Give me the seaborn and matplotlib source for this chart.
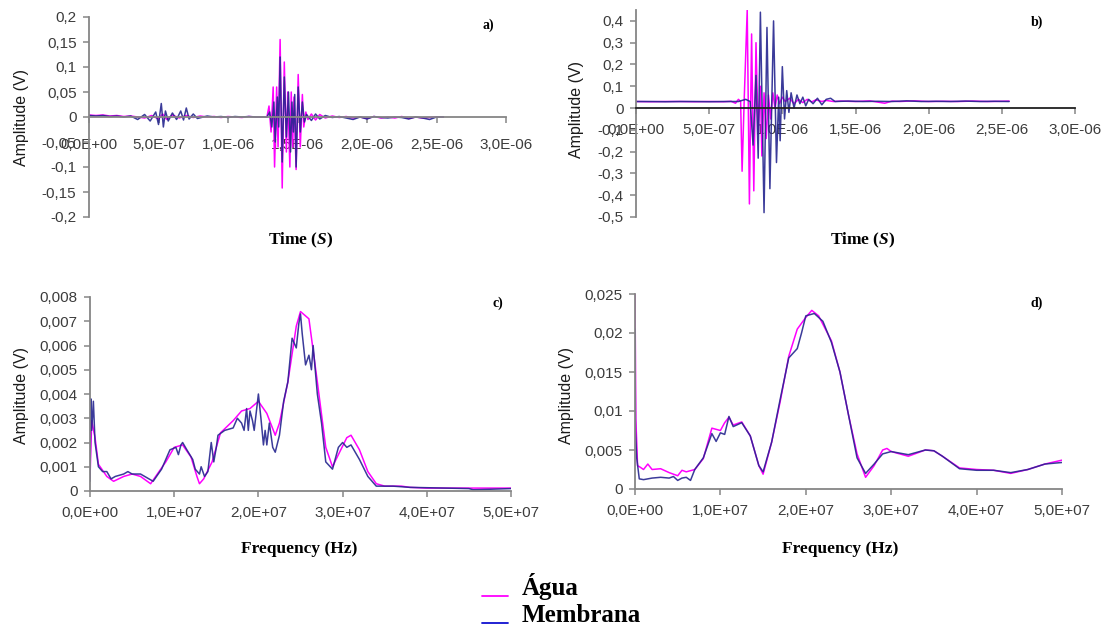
import numpy as np
import pandas as pd
import matplotlib
matplotlib.use("Agg")
import matplotlib.pyplot as plt
import seaborn as sns
from matplotlib.lines import Line2D
from matplotlib.ticker import FuncFormatter, MultipleLocator

sns.set_theme(style="white")
plt.rcParams["font.family"] = ["Liberation Sans", "DejaVu Sans"]
plt.rcParams["mathtext.fontset"] = "custom"
plt.rcParams["mathtext.rm"] = "Liberation Serif:bold"
plt.rcParams["mathtext.it"] = "Liberation Serif:italic:bold"

AGUA_COLOR = "#ff00ff"
MEMB_COLOR = "#26268f"
AXIS_GRAY = "#868686"
LABEL_GRAY = "#3c3c3c"

# ---------------- a) time signal, sample 1 (time in microseconds, volts) ----------------
a_agua_t = [0.00, 0.05, 0.10, 0.15, 0.20, 0.25, 0.30, 0.35, 0.40, 0.45, 0.50, 0.53, 0.56,
            0.60, 0.65, 0.70, 0.75, 0.80, 0.85, 0.90, 0.95, 1.00, 1.05, 1.10, 1.15, 1.20,
            1.28, 1.295, 1.31, 1.325, 1.335, 1.35, 1.36, 1.375, 1.39, 1.405, 1.42, 1.43,
            1.445, 1.455, 1.465, 1.475, 1.49, 1.505, 1.52, 1.535, 1.545, 1.56, 1.575, 1.60,
            1.63, 1.66, 1.70, 1.75, 1.80, 1.85, 1.90, 1.95, 2.00, 2.05, 2.10, 2.15, 2.20,
            2.25, 2.30, 2.35, 2.40, 2.45, 2.50, 2.55]
a_agua_v = [0.004, 0.003, 0.004, 0.002, 0.003, 0.001, 0.002, 0.000, -0.002, 0.003, -0.004,
            0.006, -0.005, 0.004, -0.002, 0.003, -0.001, 0.002, 0.000, 0.001, -0.001, 0.001,
            0.000, -0.001, 0.001, 0.000,
            0.000, 0.022, -0.030, 0.060, -0.100, 0.060, -0.060, 0.155, -0.142, 0.110,
            -0.070, 0.050, -0.100, 0.050, -0.060, 0.040, -0.105, 0.085, -0.060, 0.045,
            -0.020, 0.010, -0.005, 0.006,
            -0.006, 0.005, -0.002, 0.002, -0.001, 0.001, -0.002, 0.000, -0.003, 0.001,
            -0.002, 0.000, -0.002, 0.001, -0.003, 0.000, -0.002, -0.001, 0.000, 0.000]

a_memb_t = [0.00, 0.05, 0.10, 0.15, 0.20, 0.25, 0.30, 0.35, 0.40, 0.44, 0.48, 0.50, 0.52,
            0.535, 0.55, 0.57, 0.60, 0.63, 0.66, 0.68, 0.70, 0.72, 0.75, 0.78, 0.85, 0.90,
            0.95, 1.00, 1.05, 1.10, 1.15, 1.20,
            1.28, 1.30, 1.315, 1.33, 1.34, 1.355, 1.365, 1.375, 1.39, 1.405, 1.42, 1.435,
            1.45, 1.46, 1.47, 1.48, 1.49, 1.505, 1.52, 1.535, 1.55, 1.565, 1.60, 1.63,
            1.66, 1.70, 1.75, 1.80, 1.85, 1.90, 1.95, 2.00, 2.05, 2.10, 2.15, 2.20, 2.25,
            2.30, 2.35, 2.40, 2.45, 2.50, 2.55]
a_memb_v = [0.003, 0.002, 0.003, 0.001, 0.002, 0.000, 0.002, -0.005, 0.005, -0.008, 0.010,
            -0.015, 0.027, -0.020, 0.012, -0.008, 0.008, -0.005, 0.012, -0.006, 0.018,
            -0.004, 0.006, -0.003, 0.002, 0.000, 0.001, -0.001, 0.001, 0.000, 0.001, 0.000,
            0.000, 0.010, -0.020, 0.030, -0.050, 0.040, -0.020, 0.120, -0.090, 0.080,
            -0.040, 0.050, -0.070, 0.030, -0.030, 0.045, -0.100, 0.060, -0.030, 0.030,
            -0.010, 0.005, -0.007, 0.006, -0.004, 0.003, -0.001, 0.001, -0.002, -0.005,
            0.000, -0.004, 0.001, -0.001, -0.002, 0.000, -0.001, -0.004, 0.000, -0.002,
            -0.005, 0.000, 0.000]

# ---------------- b) time signal, sample 2 (time in microseconds, volts) ----------------
b_agua_t = [0.00, 0.10, 0.20, 0.30, 0.40, 0.50, 0.60, 0.65, 0.68, 0.70, 0.715, 0.725, 0.74,
            0.76, 0.775, 0.79, 0.805, 0.82, 0.835, 0.85, 0.86, 0.875, 0.89, 0.905, 0.92,
            0.935, 0.95, 0.965, 0.98, 1.00, 1.02, 1.05, 1.08, 1.11, 1.14, 1.17, 1.20, 1.23,
            1.27, 1.30, 1.35, 1.40, 1.50, 1.60, 1.70, 1.75, 1.80, 1.90, 2.00, 2.10, 2.20,
            2.30, 2.40, 2.50, 2.55]
b_agua_v = [0.030, 0.029, 0.030, 0.030, 0.029, 0.030, 0.029, 0.031, 0.022, 0.040, 0.030,
            -0.290, 0.050, 0.450, -0.440, 0.340, -0.380, 0.300, -0.120, 0.100, -0.220, 0.070,
            -0.140, 0.060, -0.050, 0.070, 0.000, 0.060, 0.020, 0.050, 0.030, 0.045, 0.020,
            0.040, 0.025, 0.040, 0.028, 0.038, 0.030, 0.035, 0.030, 0.032, 0.030, 0.033,
            0.022, 0.032, 0.030, 0.033, 0.030, 0.031, 0.030, 0.032, 0.030, 0.031, 0.032]

b_memb_t = [0.00, 0.10, 0.20, 0.30, 0.40, 0.50, 0.60, 0.70, 0.75, 0.78, 0.80, 0.82, 0.835,
            0.85, 0.875, 0.895, 0.915, 0.94, 0.96, 0.975, 0.985, 1.00, 1.015, 1.03, 1.045,
            1.06, 1.08, 1.10, 1.12, 1.14, 1.16, 1.18, 1.21, 1.24, 1.27, 1.30, 1.33, 1.36,
            1.45, 1.55, 1.65, 1.75, 1.85, 1.95, 2.05, 2.15, 2.25, 2.35, 2.45, 2.55]
b_memb_v = [0.030, 0.030, 0.029, 0.030, 0.030, 0.029, 0.030, 0.030, 0.040, 0.030, -0.170,
            0.150, -0.230, 0.440, -0.480, 0.370, -0.370, 0.400, -0.250, 0.050, -0.150,
            0.190, -0.050, 0.080, -0.020, 0.070, 0.000, 0.060, 0.020, 0.050, 0.010, 0.040,
            0.020, 0.045, 0.015, 0.040, 0.045, 0.030, 0.032, 0.030, 0.031, 0.030, 0.033,
            0.030, 0.031, 0.030, 0.032, 0.030, 0.031, 0.030]

# ---------------- c) spectrum of sample 1 (frequency in 1E7 Hz, volts) ----------------
c_agua_f = [0.00, 0.02, 0.06, 0.10, 0.20, 0.28, 0.40, 0.50, 0.60, 0.72, 0.80, 0.90, 1.00,
            1.10, 1.20, 1.27, 1.30, 1.35, 1.45, 1.55, 1.70, 1.80, 1.90, 2.00, 2.10, 2.20,
            2.25, 2.35, 2.45, 2.50, 2.60, 2.70, 2.80, 2.88, 2.95, 3.05, 3.10, 3.20, 3.30,
            3.40, 3.50, 3.70, 3.80, 4.00, 5.00]
c_agua_v = [0.0005, 0.0029, 0.0022, 0.0011, 0.0006, 0.0004, 0.0006, 0.0007, 0.0006,
            0.0003, 0.0007, 0.0012, 0.0018, 0.0019, 0.0014, 0.0006, 0.0003, 0.0005,
            0.0012, 0.0024, 0.0029, 0.0033, 0.0034, 0.0037, 0.0032, 0.0023, 0.0028,
            0.0045, 0.0068, 0.0074, 0.0071, 0.0045, 0.0018, 0.0010, 0.0015, 0.0022,
            0.0023, 0.0017, 0.0008, 0.0003, 0.0002, 0.0002, 0.00015, 0.00012, 0.00012]

c_memb_f = [0.00, 0.01, 0.02, 0.04, 0.06, 0.10, 0.15, 0.20, 0.25, 0.30, 0.40, 0.45, 0.50,
            0.60, 0.70, 0.75, 0.85, 0.95, 1.02, 1.05, 1.08, 1.10, 1.15, 1.22, 1.25, 1.30,
            1.32, 1.36, 1.40, 1.44, 1.47, 1.50, 1.52, 1.60, 1.70, 1.75, 1.80, 1.83, 1.86,
            1.88, 1.90, 1.93, 1.95, 2.00, 2.03, 2.06, 2.08, 2.10, 2.13, 2.17, 2.20, 2.25,
            2.30, 2.35, 2.40, 2.45, 2.48, 2.50, 2.52, 2.56, 2.60, 2.63, 2.65, 2.70, 2.75,
            2.80, 2.88, 2.95, 3.00, 3.05, 3.10, 3.20, 3.30, 3.40, 3.60, 3.80, 4.50, 4.55,
            5.00]
c_memb_v = [0.0004, 0.0038, 0.0025, 0.0037, 0.0020, 0.0010, 0.0008, 0.0008, 0.0005,
            0.0006, 0.0007, 0.0008, 0.0007, 0.0007, 0.0005, 0.0004, 0.0009, 0.0017,
            0.0018, 0.0015, 0.0019, 0.0020, 0.0017, 0.0013, 0.0009, 0.0007, 0.0010,
            0.0006, 0.0008, 0.0020, 0.0012, 0.0018, 0.0023, 0.0025, 0.0026, 0.0030,
            0.0028, 0.0025, 0.0034, 0.0025, 0.0033, 0.0029, 0.0025, 0.0040, 0.0030,
            0.0019, 0.0025, 0.0019, 0.0028, 0.0018, 0.0016, 0.0023, 0.0037, 0.0045,
            0.0063, 0.0059, 0.0069, 0.0073, 0.0065, 0.0052, 0.0056, 0.0050, 0.0060,
            0.0040, 0.0028, 0.0012, 0.0009, 0.0018, 0.0020, 0.0018, 0.0019, 0.0013,
            0.0006, 0.0002, 0.0002, 0.00015, 0.0001, 0.00005, 0.0001]

# ---------------- d) spectrum of sample 2 (frequency in 1E7 Hz, volts) ----------------
d_agua_f = [0.00, 0.01, 0.03, 0.06, 0.10, 0.15, 0.20, 0.30, 0.40, 0.50, 0.55, 0.60, 0.70,
            0.80, 0.90, 1.00, 1.05, 1.10, 1.15, 1.25, 1.35, 1.45, 1.50, 1.60, 1.70, 1.80,
            1.90, 2.00, 2.07, 2.15, 2.30, 2.40, 2.50, 2.60, 2.70, 2.80, 2.90, 2.95, 3.00,
            3.20, 3.40, 3.50, 3.60, 3.80, 4.00, 4.20, 4.40, 4.60, 4.80, 5.00]
d_agua_v = [0.0250, 0.0090, 0.0030, 0.0028, 0.0025, 0.0032, 0.0025, 0.0026, 0.0021,
            0.0017, 0.0024, 0.0022, 0.0025, 0.0039, 0.0078, 0.0075, 0.0085, 0.0092,
            0.0082, 0.0086, 0.0068, 0.0030, 0.0019, 0.0060, 0.0112, 0.0170, 0.0205,
            0.0220, 0.0229, 0.0222, 0.0190, 0.0150, 0.0095, 0.0045, 0.0015, 0.0030,
            0.0050, 0.0052, 0.0048, 0.0042, 0.0050, 0.0049, 0.0042, 0.0027, 0.0025,
            0.0024, 0.0020, 0.0025, 0.0032, 0.0037]

d_memb_f = [0.00, 0.005, 0.02, 0.05, 0.10, 0.20, 0.30, 0.40, 0.45, 0.50, 0.55, 0.60, 0.65,
            0.70, 0.80, 0.90, 0.95, 1.00, 1.05, 1.10, 1.15, 1.25, 1.35, 1.45, 1.50, 1.60,
            1.70, 1.80, 1.90, 1.95, 2.00, 2.10, 2.20, 2.30, 2.40, 2.50, 2.60, 2.70, 2.80,
            2.90, 3.00, 3.20, 3.40, 3.50, 3.60, 3.80, 4.00, 4.20, 4.40, 4.60, 4.80, 5.00]
d_memb_v = [0.0205, 0.0075, 0.0040, 0.0013, 0.0012, 0.0014, 0.0015, 0.0014, 0.0016,
            0.0011, 0.0014, 0.0015, 0.0011, 0.0025, 0.0040, 0.0071, 0.0061, 0.0072,
            0.0070, 0.0093, 0.0080, 0.0085, 0.0068, 0.0030, 0.0022, 0.0060, 0.0115,
            0.0168, 0.0180, 0.0200, 0.0222, 0.0225, 0.0215, 0.0188, 0.0150, 0.0095,
            0.0040, 0.0020, 0.0032, 0.0045, 0.0048, 0.0044, 0.0050, 0.0049, 0.0042,
            0.0026, 0.0024, 0.0024, 0.0021, 0.0025, 0.0032, 0.0034]

SERIES_NAMES = ["Água", "Membrana"]
TIME_UNIT = 1e-6   # microseconds -> seconds
FREQ_UNIT = 1e7    # 1E7 Hz -> Hz

W, H = 1107, 629
fig = plt.figure(figsize=(W / 100, H / 100), dpi=100)
fig.patch.set_facecolor("white")


def axes_px(left, right, top, bottom):
    return fig.add_axes([left / W, 1 - bottom / H, (right - left) / W, (bottom - top) / H])


def decimal_comma(v, pos):
    v = round(v, 6)
    if v == 0:
        return "0"
    return f"{v:g}".replace(".", ",")


def sci_comma(v, pos):
    return f"{v:.1E}".replace(".", ",")


def style_axes(ax, xmax, xstep, ylim, ystep, xpad, zero_axis_color=AXIS_GRAY):
    ax.set_facecolor("white")
    ax.set_xlim(0, xmax)
    ax.set_ylim(*ylim)
    ax.xaxis.set_major_locator(MultipleLocator(xstep))
    ax.yaxis.set_major_locator(MultipleLocator(ystep))
    ax.xaxis.set_major_formatter(FuncFormatter(sci_comma))
    ax.yaxis.set_major_formatter(FuncFormatter(decimal_comma))
    for side in ("top", "right"):
        ax.spines[side].set_visible(False)
    ax.spines["left"].set_color(AXIS_GRAY)
    ax.spines["left"].set_linewidth(1.3)
    ax.spines["bottom"].set_color(zero_axis_color)
    ax.spines["bottom"].set_linewidth(1.3)
    if ylim[0] < 0:
        ax.spines["bottom"].set_position(("data", 0))
    ax.tick_params(axis="both", direction="out", length=4, width=1.1, color=AXIS_GRAY,
                   labelsize=11, labelcolor=LABEL_GRAY, left=True, bottom=True)
    ax.tick_params(axis="y", pad=5)
    ax.tick_params(axis="x", pad=xpad)
    ax.set_xlabel("")
    ax.set_ylabel("")
    ax.grid(False)
    ax.set_yticks([t for t in ax.get_yticks() if ylim[0] - 1e-9 <= t <= ylim[1] + 1e-9])


def draw_pair(ax, x1, y1, x2, y2, scale):
    df1 = pd.DataFrame({"x": np.asarray(x1) * scale, "y": y1})
    df2 = pd.DataFrame({"x": np.asarray(x2) * scale, "y": y2})
    sns.lineplot(data=df1, x="x", y="y", ax=ax, color=AGUA_COLOR, lw=1.1,
                 estimator=None, sort=False, legend=False)
    sns.lineplot(data=df2, x="x", y="y", ax=ax, color=MEMB_COLOR, lw=1.1,
                 estimator=None, sort=False, legend=False, alpha=0.9)


serif_bold = dict(family=["Liberation Serif", "DejaVu Serif"], weight="bold")

# a)
ax_a = axes_px(89, 506, 17, 217)
draw_pair(ax_a, a_agua_t, a_agua_v, a_memb_t, a_memb_v, TIME_UNIT)
style_axes(ax_a, 3e-6, 5e-7, (-0.2, 0.2), 0.05, xpad=11)

# b)
ax_b = axes_px(636, 1075, 10, 217)
draw_pair(ax_b, b_agua_t, b_agua_v, b_memb_t, b_memb_v, TIME_UNIT)
style_axes(ax_b, 3e-6, 5e-7, (-0.5, 0.45), 0.1, xpad=7, zero_axis_color="#202020")

# c)
ax_c = axes_px(90, 511, 297, 491)
draw_pair(ax_c, c_agua_f, c_agua_v, c_memb_f, c_memb_v, FREQ_UNIT)
style_axes(ax_c, 5e7, 1e7, (0, 0.008), 0.001, xpad=7)

# d)
ax_d = axes_px(635, 1062, 294, 489)
draw_pair(ax_d, d_agua_f, d_agua_v, d_memb_f, d_memb_v, FREQ_UNIT)
style_axes(ax_d, 5e7, 1e7, (0, 0.025), 0.005, xpad=7)


def fig_text(x, y, s, **kw):
    fig.text(x / W, 1 - y / H, s, **kw)


# axis titles
for (x, y) in [(22, 117), (577, 110), (22, 395), (567, 395)]:
    fig_text(x, y, "Amplitude (V)", rotation=90, ha="center", va="center",
             fontsize=11.5, color="#1a1a1a")

for (x, y) in [(301, 240), (863, 240)]:
    fig_text(x, y, r"Time ($\mathit{S}$)", ha="center", va="center", fontsize=12.5,
             color="black", **serif_bold)
for (x, y) in [(299, 549), (840, 549)]:
    fig_text(x, y, "Frequency (Hz)", ha="center", va="center", fontsize=12.5,
             color="black", **serif_bold)

# panel letters
for (x, y, s) in [(488, 25, "a)"), (1037, 22, "b)"), (498, 303, "c)"), (1037, 303, "d)")]:
    fig_text(x, y, s, ha="center", va="center", fontsize=10, color="black", **serif_bold)

# legend
handles = [Line2D([], [], color=AGUA_COLOR, lw=1.3),
           Line2D([], [], color="#1010d0", lw=1.3)]
leg = fig.legend(handles, SERIES_NAMES, loc="upper left",
                 bbox_to_anchor=(482 / W, 1 - 573 / H), frameon=False,
                 borderpad=0, borderaxespad=0,
                 handlelength=1.05, handletextpad=0.55, labelspacing=0.15,
                 labelcolor="black",
                 prop=dict(family=["Liberation Serif", "DejaVu Serif"], weight="bold",
                           size=18))
for line in leg.get_lines():
    line.set_ydata(np.asarray(line.get_ydata()) - 7)

fig.savefig("out.png", dpi=100, facecolor="white")
